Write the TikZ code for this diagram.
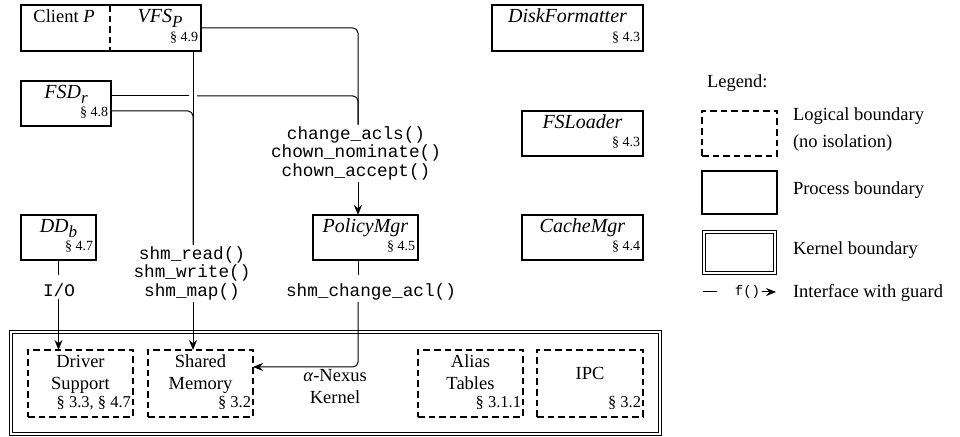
\documentclass[tikz,border=0pt]{standalone}
\usepackage{fontspec}
\setmainfont{Liberation Serif}
\setmonofont{Liberation Mono}
\usetikzlibrary{arrows.meta,calc,fit}
\newcommand\txtfont{\fontsize{9.25}{11}\selectfont}
\newcommand\nmfont{\fontsize{10}{12}\selectfont\itshape}
\newcommand\secpfont{\fontsize{7}{8.5}\selectfont}
\newcommand\seckfont{\fontsize{8.25}{10}\selectfont}
\newcommand\codefont{\fontsize{8.85}{9.25}\selectfont\ttfamily}
\newcommand\lowsub[1]{\raisebox{-0.5ex}{\fontsize{8.5}{9}\selectfont\itshape #1}}
\begin{document}
\begin{tikzpicture}[x=0.5pt,y=-0.5pt,
  every node/.style={inner sep=0pt, outer sep=0pt},
  pbox/.style={draw, line width=0.8pt},
  lbox/.style={draw, dash pattern=on 3.3pt off 2pt, line width=0.65pt},
  kbox/.style={draw, double, line width=0.5pt, double distance=1pt},
  conn/.style={line width=0.5pt},
  arr/.style={conn, -{Stealth[length=5pt,width=4pt]}},
  nm/.style={font=\nmfont, anchor=base},
  secp/.style={font=\secpfont, anchor=base east},
  seck/.style={font=\seckfont, anchor=base east},
  txt/.style={font=\txtfont},
  code/.style={font=\codefont, align=center, inner sep=1pt},
]
\fill[white] (0,0) rectangle (960,437);
\useasboundingbox (0,0) rectangle (960,437);

% process boxes
\node[pbox, fit={(21,5)(201,51)}] (cp) {};
\draw[lbox] ($(cp.north west)+(89,0)$) -- ($(cp.south west)+(89,0)$);
\node[txt, anchor=base] (cpn) at (64,23) {Client \textit{P}};
\node[nm] (vfsn) at (160,23) {VFS\lowsub{P}};
\node[secp] (cps) at ($(cp.south east)+(-3,-9)$) {§~4.9};

\node[pbox, fit={(21,81)(111,126)}] (fsd) {};
\node[nm] (fsdn) at ($(fsd.north)+(0,17.5)$) {FSD\lowsub{r}};
\node[secp] (fsds) at ($(fsd.south east)+(-3,-9)$) {§~4.8};

\node[pbox, fit={(21,215)(96,260)}] (dd) {};
\node[nm] (ddn) at ($(dd.north)+(0,17.5)$) {DD\lowsub{b}};
\node[secp] (dds) at ($(dd.south east)+(-3,-9)$) {§~4.7};

\node[pbox, fit={(313,215)(418,260)}] (pol) {};
\node[nm] (poln) at ($(pol.north)+(0,17.5)$) {PolicyMgr};
\node[secp] (pols) at ($(pol.south east)+(-3,-9)$) {§~4.5};

\node[pbox, fit={(492,5)(643,51)}] (disk) {};
\node[nm] (diskn) at ($(disk.north)+(0,17.5)$) {DiskFormatter};
\node[secp] (disks) at ($(disk.south east)+(-3,-9)$) {§~4.3};

\node[pbox, fit={(522,111)(643,156)}] (fsl) {};
\node[nm] (fsln) at ($(fsl.north)+(0,17.5)$) {FSLoader};
\node[secp] (fsls) at ($(fsl.south east)+(-3,-9)$) {§~4.3};

\node[pbox, fit={(522,215)(643,260)}] (cache) {};
\node[nm] (cachen) at ($(cache.north)+(0,17.5)$) {CacheMgr};
\node[secp] (caches) at ($(cache.south east)+(-3,-9)$) {§~4.4};

% kernel
\node[kbox, fit={(11,332)(660,434)}] (kern) {};
\node[lbox, fit={(28,350)(133,417)}] (drv) {};
\node[txt, align=center, anchor=base] (drvn) at ($(drv.north)+(0,40)$) {Driver\\Support};
\node[seck] (drvs) at ($(drv.south east)+(-2,-9)$) {§~3.3, §~4.7};
\node[lbox, fit={(148,350)(253,417)}] (shm) {};
\node[txt, align=center, anchor=base] (shmn) at ($(shm.north)+(0,40)$) {Shared\\Memory};
\node[seck] (shms) at ($(shm.south east)+(-2,-9)$) {§~3.2};
\node[lbox, fit={(418,350)(523,417)}] (alias) {};
\node[txt, align=center, anchor=base] (aliasn) at ($(alias.north)+(0,40)$) {Alias\\Tables};
\node[seck] (aliass) at ($(alias.south east)+(-2,-9)$) {§~3.1.1};
\node[lbox, fit={(537,350)(643,417)}] (ipc) {};
\node[txt, anchor=base] (ipcn) at ($(ipc.north)+(0,30)$) {IPC};
\node[seck] (ipcs) at ($(ipc.south east)+(-2,-9)$) {§~3.2};
\node[txt, align=center, anchor=base] (nexus) at (335,404) {\textit{α}-Nexus\\Kernel};

% interface labels
\node[code, anchor=base] (acl) at (356,176.5) {change\_acls()\\chown\_nominate()\\chown\_accept()};
\node[code, anchor=base] (shml) at (192,296.5) {shm\_read()\\shm\_write()\\shm\_map()};
\node[code, anchor=base] (io) at (59,296.5) {I/O};
\node[code, anchor=base] (chg) at (371,296.5) {shm\_change\_acl()};

% columns
\coordinate (xa) at (193,0);
\coordinate (xb) at (358,0);
\coordinate (ioend) at ($(dd.south)+(0,15)$);
\coordinate (polend) at ($(pol.south -| xb)+(0,15)$);
\coordinate (shmin) at ($(shm.east)+(0,-16.5)$);

% connectors
\draw[conn, rounded corners=2.5pt] (cp.east) -- (cp.east -| xb) -- (xb |- acl.north);
\draw[conn] ($(fsd.east)+(0,-7.5)$) -- ($(fsd.east -| xa)+(-4,-7.5)$);
\draw[conn, rounded corners=2.5pt] ($(fsd.east -| xa)+(4,-7.5)$) -- ($(fsd.east -| xb)+(0,-7.5)$) -- (xb |- acl.north);
\draw[conn, rounded corners=2.5pt] ($(fsd.east)+(0,7.5)$) -- ($(fsd.east -| xa)+(0,7.5)$) -- (xa |- shml.north);
\draw[conn] (cp.south -| xa) -- (xa |- shml.north);
\draw[arr] (xa |- shml.south) -- (xa |- shm.north);
\draw[arr] (xb |- acl.south) -- (xb |- pol.north);
\draw[conn] (dd.south) -- (ioend);
\draw[arr] (io.south -| dd.south) -- (drv.north -| dd.south);
\draw[conn] (pol.south -| xb) -- (polend);
\draw[arr, rounded corners=2.5pt] (chg.south -| xb) -- (xb |- shmin) -- (shmin);

% legend
\node[txt, anchor=base west] (leg) at (707,88) {Legend:};
\node[lbox, fit={(702,111)(777,156)}] (ld) {};
\node[txt, anchor=base west, align=left, font=\fontsize{9.25}{13.5}\selectfont] (ldt) at (793,148) {Logical boundary\\(no isolation)};
\node[pbox, fit={(702,171)(777,214)}] (lp) {};
\node[txt, anchor=base west] (lpt) at (793,195) {Process boundary};
\node[kbox, fit={(704,232)(775,273)}] (lk) {};
\node[txt, anchor=base west] (lkt) at (793,255) {Kernel boundary};
\node[font=\fontsize{7}{8}\selectfont\ttfamily] (lf) at (747.5,292) {f()};
\coordinate (lfa) at (703,292);
\coordinate (lfb) at (717,292);
\coordinate (lfc) at (762,292);
\coordinate (lfd) at (776,292);
\draw[conn] (lfa) -- (lfb);
\draw[arr] (lfc) -- (lfd);
\node[txt, anchor=base west] (lit) at (793,298) {Interface with guard};
\end{tikzpicture}
\end{document}
